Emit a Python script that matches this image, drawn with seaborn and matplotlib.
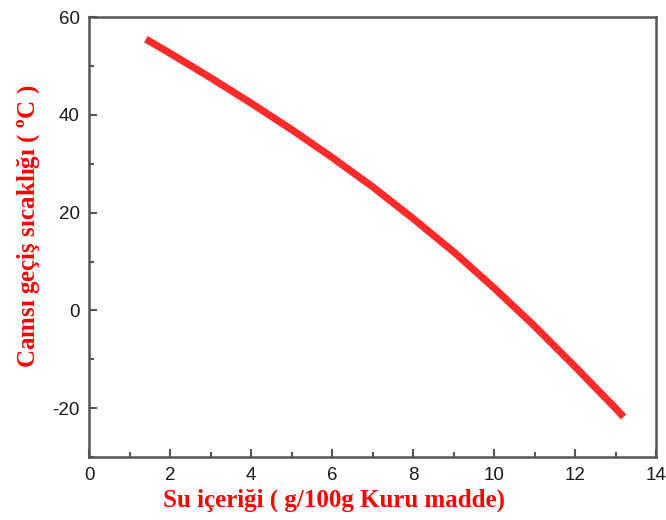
import numpy as np
import pandas as pd
import matplotlib
matplotlib.use("Agg")
import matplotlib.pyplot as plt
import seaborn as sns
from matplotlib.ticker import MultipleLocator

# water content (g/100g dry matter) and glass transition temperature (C)
su_icerigi = [1.4, 2, 3, 4, 5, 6, 7, 8, 9, 10, 11, 12, 13, 13.2]
camsi_gecis = [55.5, 52.6, 47.6, 42.4, 37.0, 31.3, 25.3, 18.8, 12.0, 4.6, -3.2, -11.5, -20.0, -21.8]

df = pd.DataFrame({"x": su_icerigi, "y": camsi_gecis})

sns.set_theme(style="white")
plt.rcParams["font.family"] = ["Liberation Sans", "DejaVu Sans"]
plt.rcParams["axes.unicode_minus"] = False

fig = plt.figure(figsize=(6.66, 5.2), dpi=100)
ax = fig.add_axes([0.134, 0.121, 0.851, 0.846])

sns.lineplot(x="x", y="y", data=df, color="#ff2a2a", linewidth=5.2, ax=ax,
             solid_capstyle="butt")

ax.set_xlim(0, 14)
ax.set_ylim(-30, 60)
ax.xaxis.set_major_locator(MultipleLocator(2))
ax.xaxis.set_minor_locator(MultipleLocator(1))
ax.yaxis.set_major_locator(MultipleLocator(20))
ax.yaxis.set_minor_locator(MultipleLocator(10))

ax.tick_params(which="both", direction="in", color="#555555", width=1.5,
               bottom=True, left=True, top=False, right=False,
               labelsize=13.5, labelcolor="#1a1a1a")
ax.tick_params(which="major", length=6, pad=7)
ax.tick_params(which="minor", length=3.5)

for s in ax.spines.values():
    s.set_color("#555555")
    s.set_linewidth(1.8)

lab = dict(family=["Liberation Serif", "DejaVu Serif"], fontweight="bold",
           color="#ff0000", fontsize=18)
ax.set_xlabel("Su içeriği ( g/100g Kuru madde)", **lab)
ax.set_ylabel("Camsı geçiş sıcaklığı ( $^{\\mathregular{o}}$C )", **lab)
ax.xaxis.set_label_coords(0.432, -0.072)
ax.yaxis.set_label_coords(-0.082, 0.525)

fig.savefig("out.png", dpi=100)
